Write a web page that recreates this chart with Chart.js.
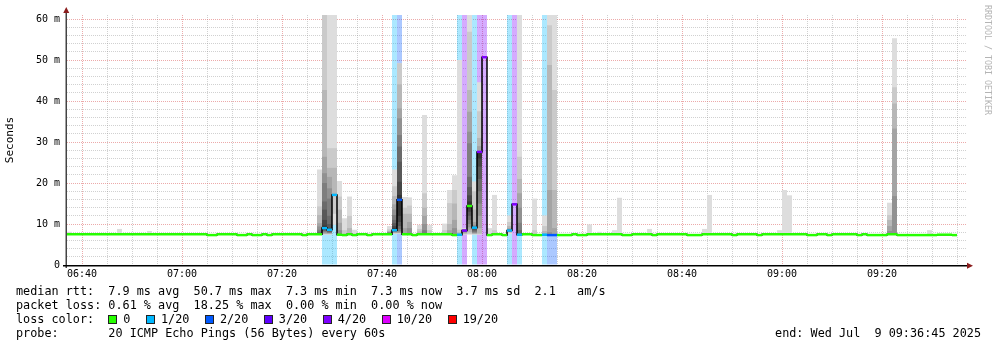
<!DOCTYPE html>
<html>
<head>
<meta charset="utf-8">
<title>median rtt</title>
<script src="https://cdn.jsdelivr.net/npm/chart.js@4.4.1/dist/chart.umd.min.js"></script>
<style>
  html, body { margin: 0; padding: 0; background: #fff; }
  #graph { position: relative; width: 997px; height: 347px; overflow: hidden; }
  #graph canvas { position: absolute; left: 0; top: 0; }
  .legend { position: absolute; left: 16px; font: 11.8px/14px 'DejaVu Sans Mono', monospace; white-space: pre; color: #000; }
  .swatch { display: inline-block; width: 7px; height: 7px; border: 1px solid #222; margin-right: 6px; vertical-align: -1px; }
  .lossLabel { margin-right: 15.5px; }
  #endTime { left: auto; right: 16px; }
  #mark { position: absolute; left: 983px; top: 5px; font: 8.3px/10px 'DejaVu Sans Mono', monospace; color: #b4b4b4; writing-mode: vertical-rl; white-space: pre; }
</style>
</head>
<body>
<div id="graph">
  <canvas id="rtt" width="997" height="347"></canvas>
  <div class="legend" style="top:284px">median rtt:  7.9 ms avg  50.7 ms max  7.3 ms min  7.3 ms now  3.7 ms sd  2.1   am/s</div>
  <div class="legend" style="top:297.5px">packet loss: 0.61 % avg  18.25 % max  0.00 % min  0.00 % now</div>
  <div class="legend" id="lossKey" style="top:312px">loss color:  </div>
  <div class="legend" style="top:326px">probe:       20 ICMP Echo Pings (56 Bytes) every 60s</div>
  <div class="legend" id="endTime" style="top:326px">end: Wed Jul  9 09:36:45 2025</div>
  <div id="mark">RRDTOOL / TOBI OETIKER</div>
</div>
<script>
// one sample per minute, first column starts at 06:37
const firstSample = '06:37';

// median rtt per minute (ms)
const medianMs = [
  7.5, 7.5, 7.5, 7.5, 7.5, 7.5, 7.5, 7.5, 7.5, 7.5,
  7.5, 7.5, 7.5, 7.5, 7.5, 7.5, 7.5, 7.5, 7.5, 7.5,
  7.5, 7.5, 7.5, 7.5, 7.5, 7.5, 7.5, 7.5, 7.3, 7.3,
  7.5, 7.5, 7.5, 7.5, 7.3, 7.3, 7.5, 7.3, 7.3, 7.5,
  7.3, 7.5, 7.5, 7.5, 7.5, 7.5, 7.5, 7.3, 7.5, 7.5,
  7.5, 9.0, 8.6, 17.1, 7.4, 7.3, 7.5, 7.3, 7.5, 7.5,
  7.3, 7.5, 7.5, 7.5, 7.5, 8.5, 15.9, 7.5, 7.5, 7.3,
  7.5, 7.5, 7.5, 7.5, 7.5, 7.5, 7.5, 7.3, 7.4, 8.4,
  14.4, 9.1, 27.6, 50.7, 7.3, 7.5, 7.5, 7.3, 8.4, 14.8,
  7.4, 7.5, 7.5, 7.3, 7.3, 7.4, 7.3, 7.3, 7.3, 7.3,
  7.3, 7.5, 7.3, 7.3, 7.5, 7.5, 7.5, 7.5, 7.5, 7.5,
  7.5, 7.3, 7.3, 7.5, 7.5, 7.5, 7.5, 7.3, 7.5, 7.5,
  7.5, 7.5, 7.5, 7.5, 7.3, 7.3, 7.3, 7.5, 7.5, 7.5,
  7.5, 7.5, 7.5, 7.3, 7.5, 7.5, 7.5, 7.5, 7.3, 7.5,
  7.5, 7.5, 7.5, 7.5, 7.5, 7.5, 7.5, 7.5, 7.3, 7.3,
  7.5, 7.5, 7.3, 7.5, 7.5, 7.5, 7.5, 7.5, 7.3, 7.5,
  7.3, 7.3, 7.3, 7.3, 7.5, 7.5, 7.3, 7.3, 7.3, 7.3,
  7.3, 7.3, 7.3, 7.3, 7.4, 7.4, 7.4, 7.3
];

// lost pings out of 20, per minute
const lossPings = [
  0, 0, 0, 0, 0, 0, 0, 0, 0, 0,
  0, 0, 0, 0, 0, 0, 0, 0, 0, 0,
  0, 0, 0, 0, 0, 0, 0, 0, 0, 0,
  0, 0, 0, 0, 0, 0, 0, 0, 0, 0,
  0, 0, 0, 0, 0, 0, 0, 0, 0, 0,
  0, 1, 1, 1, 0, 0, 0, 0, 0, 0,
  0, 0, 0, 0, 0, 1, 2, 0, 0, 0,
  0, 0, 0, 0, 0, 0, 0, 0, 1, 4,
  0, 1, 4, 4, 0, 0, 0, 0, 1, 4,
  1, 0, 0, 0, 0, 1, 2, 2, 0, 0,
  0, 0, 0, 0, 0, 0, 0, 0, 0, 0,
  0, 0, 0, 0, 0, 0, 0, 0, 0, 0,
  0, 0, 0, 0, 0, 0, 0, 0, 0, 0,
  0, 0, 0, 0, 0, 0, 0, 0, 0, 0,
  0, 0, 0, 0, 0, 0, 0, 0, 0, 0,
  0, 0, 0, 0, 0, 0, 0, 0, 0, 0,
  0, 0, 0, 0, 0, 0, 0, 0, 0, 0,
  0, 0, 0, 0, 0, 0, 0, 0
];

// minutes whose single pings spread away from the median
const smokeAt = [
  '06:37', '06:47', '06:53', '07:27', '07:28', '07:29', '07:30', '07:31', '07:32', '07:33', '07:34',
  '07:41', '07:42', '07:43', '07:44', '07:45', '07:47', '07:48', '07:49', '07:52', '07:53', '07:54',
  '07:55', '07:56', '07:57', '07:58', '07:59', '08:01', '08:02', '08:05', '08:07', '08:10', '08:12',
  '08:13', '08:14', '08:21', '08:23', '08:26', '08:27', '08:33', '08:44', '08:45', '08:59', '09:00',
  '09:01', '09:21', '09:22', '09:29'
];
// pings above the median, slowest first (ms)
const smokeHigh = [
  [8.1], [8.8], [8.3],
  [23.3, 14.3, 12.2, 10.2, 9.4, 8.6, 8.1],
  [75, 61.3, 42.7, 26.4, 22.4, 20.0, 15.5, 13.5, 11.0, 9.6],
  [65, 28.5, 23.7, 21.5, 18.7, 16.2, 12.0, 10.0, 9.0],
  [65, 28.5, 23.7],
  [20.5, 16.7, 13.5, 10.3, 8.5],
  [11.4, 8.5],
  [16.7, 12.0, 9.0],
  [8.6],
  [9.5, 8.7, 8.3, 8.1, 8.0, 7.9, 7.8, 7.7, 7.6],
  [23.3, 19.2, 16.8, 14.8, 13.5, 12.2, 11.0, 10.2, 9.5, 9.0],
  [49.2, 49.2, 44.1, 38.2, 35.8, 31.7, 28.9, 25.2, 20.3, 17.1],
  [16.6, 14.0, 12.5, 9.0],
  [16.5, 14.5, 12.5, 10.5, 9.0],
  [9.8, 8.8, 8.2],
  [36.6, 17.5, 14.0, 12.0, 10.0, 8.5],
  [9.8, 8.5],
  [10.1, 8.5],
  [18.3, 15.1, 10.0, 8.5],
  [21.9, 18.3, 15.0, 11.0, 9.0],
  [50.0, 8.6, 8.0],
  [9.0, 8.8, 8.7, 8.6, 8.5],
  [65, 56.9, 42.7, 37.4, 32.5, 29.7, 21.5, 19.0, 17.0, 15.5],
  [20.4, 18.0, 13.5, 10.5, 9.8, 9.5],
  [44.6, 37.5, 31.0, 29.0],
  [9.0],
  [17.1, 8.5],
  [12.1, 10.5, 9.5, 9.0],
  [70, 26.4, 21.0, 17.5, 14.0, 10.3, 8.5],
  [16.2, 8.5],
  [12.1, 9.5, 8.3],
  [65, 58.5, 48.8, 18.3, 8.0],
  [65, 42.7, 18.3, 9.0],
  [9.9], [8.1], [8.5], [16.4], [8.8], [8.8], [17.1], [8.5], [18.3], [17.0],
  [15.2, 12.2, 11.0, 9.5, 8.3],
  [55.3, 43.4, 39.4, 33.3, 16.8],
  [8.5]
];
// pings below the median, fastest first (ms)
const smokeLow = [
  [], [], [], [],
  [7.4, 7.5, 7.6, 7.7, 7.9, 8.1, 8.3, 8.5, 8.7],
  [7.4, 7.5, 7.6, 7.7, 7.8, 7.9, 8.0, 8.2, 8.4],
  [9.8, 12.5],
  [], [], [], [], [],
  [7.6, 7.7, 7.8, 7.9, 8.0, 8.1, 8.2, 8.3, 8.4],
  [7.6, 7.7, 7.8, 7.9, 8.0, 8.3, 8.8, 9.5, 10.5, 12.0],
  [], [], [], [], [], [], [], [], [],
  [7.4, 7.5, 7.6, 7.8, 8.0, 8.1, 8.2, 8.3],
  [7.4, 7.6, 8.0, 8.6, 9.2, 10.0, 11.0, 12.0, 13.0, 13.8],
  [7.4, 7.5, 7.6, 7.7, 7.8, 8.0, 8.2, 8.5, 8.8],
  [7.4, 7.5, 7.7, 9.0, 12.0, 15.0, 18.0, 21.0, 24.0, 26.0],
  [], [],
  [7.6, 7.8, 8.0, 8.1, 8.2, 8.3],
  [], [], [], [], [], [], [], [], [], [], [], [], [], [], [], [], [], []
];

const timeTicks = ['06:40', '07:00', '07:20', '07:40', '08:00', '08:20', '08:40', '09:00', '09:20'];
const msTicks = [0, 10, 20, 30, 40, 50, 60];

const lossSteps = [0, 1, 2, 3, 4, 10, 19];
const lossLabels = ['0', '1/20', '2/20', '3/20', '4/20', '10/20', '19/20'];
const lossColors = ['#26ff00', '#00b8ff', '#0059ff', '#5e00ff', '#7e00ff', '#dd00ff', '#ff0000'];

const smokeGrays = ['#dddddd', '#cacaca', '#b7b7b7', '#a4a4a4', '#919191', '#7e7e7e', '#6b6b6b', '#585858', '#454545', '#333333'];
const majorGrid = 'rgba(220, 100, 100, 0.55)';
const minorGrid = 'rgba(140, 140, 140, 0.4)';
const monoFont = "'DejaVu Sans Mono', monospace";

const toMinutes = t => { const [h, m] = t.split(':').map(Number); return h * 60 + m; };
const tint = (hex, a) => {
  const n = parseInt(hex.slice(1), 16);
  return `rgba(${n >> 16}, ${(n >> 8) & 255}, ${n & 255}, ${a})`;
};
const lossColor = n => lossColors[lossSteps.findIndex(s => n <= s)];

const start = toMinutes(firstSample);
const span = 180;
const yTop = 61;
const halfBand = 0.3;   // half height of the median marker, ms

// legend swatches
const key = document.getElementById('lossKey');
lossLabels.forEach((label, i) => {
  const sw = document.createElement('span');
  sw.className = 'swatch';
  sw.style.background = lossColors[i];
  const lab = document.createElement('span');
  lab.className = 'lossLabel';
  lab.textContent = label;
  key.appendChild(sw);
  key.appendChild(lab);
});

// full height loss background
const lossBars = [];
lossPings.forEach((n, i) => {
  if (n > 0) lossBars.push({ x: start + i + 0.5, y: [0, yTop], c: tint(lossColor(n), 0.33) });
});

// smoke: nested bands, outer pings drawn first and lightest
const smokeBars = [];
smokeAt.forEach((t, n) => {
  const i = toMinutes(t) - start;
  const med = medianMs[i];
  const x = start + i + 0.5;
  smokeLow[n].forEach((v, j) => smokeBars.push({ x, y: [v, med], c: smokeGrays[j] }));
  smokeHigh[n].forEach((v, j) => smokeBars.push({ x, y: [med, v], c: smokeGrays[j] }));
});

const medianBars = medianMs.map((v, i) => ({
  x: start + i + 0.5, y: [v - halfBand, v + halfBand], c: lossColor(lossPings[i])
}));

// each median holds from its minute to the next one
const medianSteps = medianMs.map((v, i) => ({ x: start + i, y: v }));
medianSteps.push({ x: start + medianMs.length, y: medianMs[medianMs.length - 1] });

const barStyle = {
  type: 'bar', grouped: false, barPercentage: 1, categoryPercentage: 1,
  borderWidth: 0, inflateAmount: 0,
  backgroundColor: c => (c.raw ? c.raw.c : 'transparent')
};

// axis lines and arrow heads, drawn over everything
const axisArrows = {
  id: 'axisArrows',
  afterDraw(chart) {
    const { ctx, chartArea: a } = chart;
    ctx.save();
    ctx.fillStyle = '#444';
    ctx.fillRect(a.left - 1.5, 10, 1.5, a.bottom - 7);
    ctx.fillStyle = '#000';
    ctx.fillRect(a.left - 4, a.bottom, a.right - a.left + 5, 1.5);
    ctx.fillStyle = '#8b1c1c';
    ctx.beginPath();
    ctx.moveTo(a.left - 3.75, 13); ctx.lineTo(a.left + 2.25, 13); ctx.lineTo(a.left - 0.75, 7);
    ctx.closePath(); ctx.fill();
    ctx.beginPath();
    ctx.moveTo(a.right, a.bottom - 2.25); ctx.lineTo(a.right, a.bottom + 3.75); ctx.lineTo(a.right + 6, a.bottom + 0.75);
    ctx.closePath(); ctx.fill();
    ctx.restore();
  }
};

const timeSet = new Set(timeTicks.map(toMinutes));
const gridMinutes = [];
for (let m = Math.ceil(start / 5) * 5; m < start + span; m += 5) gridMinutes.push(m);
const gridMs = [];
for (let v = 0; v <= 60; v += 2) gridMs.push(v);

Chart.defaults.font.family = monoFont;

new Chart(document.getElementById('rtt'), {
  type: 'bar',
  data: {
    datasets: [
      Object.assign({ label: 'loss', data: lossBars, order: 4 }, barStyle),
      Object.assign({ label: 'smoke', data: smokeBars, order: 3 }, barStyle),
      {
        type: 'line', label: 'median', data: medianSteps, order: 2,
        stepped: 'before', borderColor: '#000', borderWidth: 1.5,
        pointRadius: 0, fill: false
      },
      Object.assign({ label: 'median rtt', data: medianBars, order: 1 }, barStyle)
    ]
  },
  options: {
    responsive: false,
    animation: false,
    events: [],
    layout: { padding: { left: 0, top: 15, right: 30, bottom: 62 } },
    plugins: { legend: { display: false }, tooltip: { enabled: false } },
    scales: {
      x: {
        type: 'linear', min: start, max: start + span, offset: false, z: 1,
        afterBuildTicks: s => { s.ticks = gridMinutes.map(v => ({ value: v })); },
        afterFit: s => { s.height = 20; },
        grid: {
          offset: false, drawTicks: false, lineWidth: 1,
          color: c => (c.tick && c.tick.value % 20 === 0 ? majorGrid : minorGrid)
        },
        border: { display: false, dash: [1, 1] },
        ticks: {
          autoSkip: false, maxRotation: 0, padding: 3, color: '#000',
          font: { family: monoFont, size: 10 },
          callback: v => {
            if (!timeSet.has(v)) return '';
            return String(Math.floor(v / 60)).padStart(2, '0') + ':' + String(v % 60).padStart(2, '0');
          }
        }
      },
      y: {
        min: 0, max: yTop, z: 1,
        afterBuildTicks: s => { s.ticks = gridMs.map(v => ({ value: v })); },
        afterFit: s => { s.width = 67; },
        grid: {
          drawTicks: false, lineWidth: 1,
          color: c => (c.tick && c.tick.value % 10 === 0 ? majorGrid : minorGrid)
        },
        border: { display: false, dash: [1, 1] },
        ticks: {
          autoSkip: false, padding: 7, color: '#000',
          font: { family: monoFont, size: 10 },
          callback: v => (msTicks.includes(v) ? (v === 0 ? '0' : v + ' m') : '')
        },
        title: {
          display: true, text: 'Seconds', color: '#000',
          font: { family: monoFont, size: 11 },
          padding: { top: 4, bottom: 0 }
        }
      }
    }
  },
  plugins: [axisArrows]
});
</script>
</body>
</html>
